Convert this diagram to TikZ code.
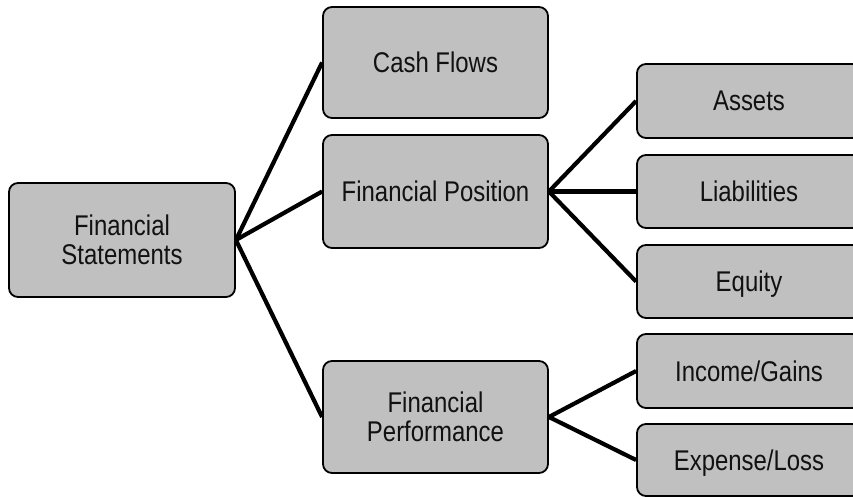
\documentclass[tikz,border=0pt]{standalone}
\usepackage{fontspec}
\setmainfont{Liberation Sans}[FakeStretch=0.84]
\definecolor{boxgray}{HTML}{C0C0C0}
\definecolor{txt}{HTML}{111111}
\begin{document}
\begin{tikzpicture}[x=1pt,y=-1pt,
  box/.style={draw=black, fill=boxgray, line width=1.8pt, rounded corners=9pt,
    inner sep=0pt, align=center, text=txt,
    font=\fontsize{28.5}{29}\selectfont},
  one/.style={box, text height=20pt, text depth=0pt},
  link/.style={line width=4.2pt, black}]
\useasboundingbox (0,0) rectangle (853,497);
\clip (0,0) rectangle (853,497);
\node[box, minimum width=226pt, minimum height=114pt] (fs) at (122,240) {Financial\\Statements};
\node[one, minimum width=225pt, minimum height=111pt] (cf) at (435.5,62.5) {Cash Flows};
\node[one, minimum width=225pt, minimum height=113pt] (fp) at (435.5,191.5) {Financial Position};
\node[box, minimum width=225pt, minimum height=112pt] (fperf) at (435.5,417) {Financial\\Performance};
\node[one, minimum width=224pt, minimum height=74pt] (assets) at (749,101) {Assets};
\node[one, minimum width=224pt, minimum height=73pt] (liab) at (749,191.5) {Liabilities};
\node[one, minimum width=224pt, minimum height=73pt] (equity) at (749,281.5) {Equity};
\node[one, minimum width=224pt, minimum height=74pt] (income) at (749,371) {Income/Gains};
\node[one, minimum width=224pt, minimum height=72pt] (expense) at (749,460) {Expense/Loss};
\draw[link] (fs.east) -- (cf.west);
\draw[link] (fs.east) -- (fp.west);
\draw[link] (fs.east) -- (fperf.west);
\draw[link] (fp.east) -- (assets.west);
\draw[link] (fp.east) -- (liab.west);
\draw[link] (fp.east) -- (equity.west);
\draw[link] (fperf.east) -- (income.west);
\draw[link] (fperf.east) -- (expense.west);
\end{tikzpicture}
\end{document}
